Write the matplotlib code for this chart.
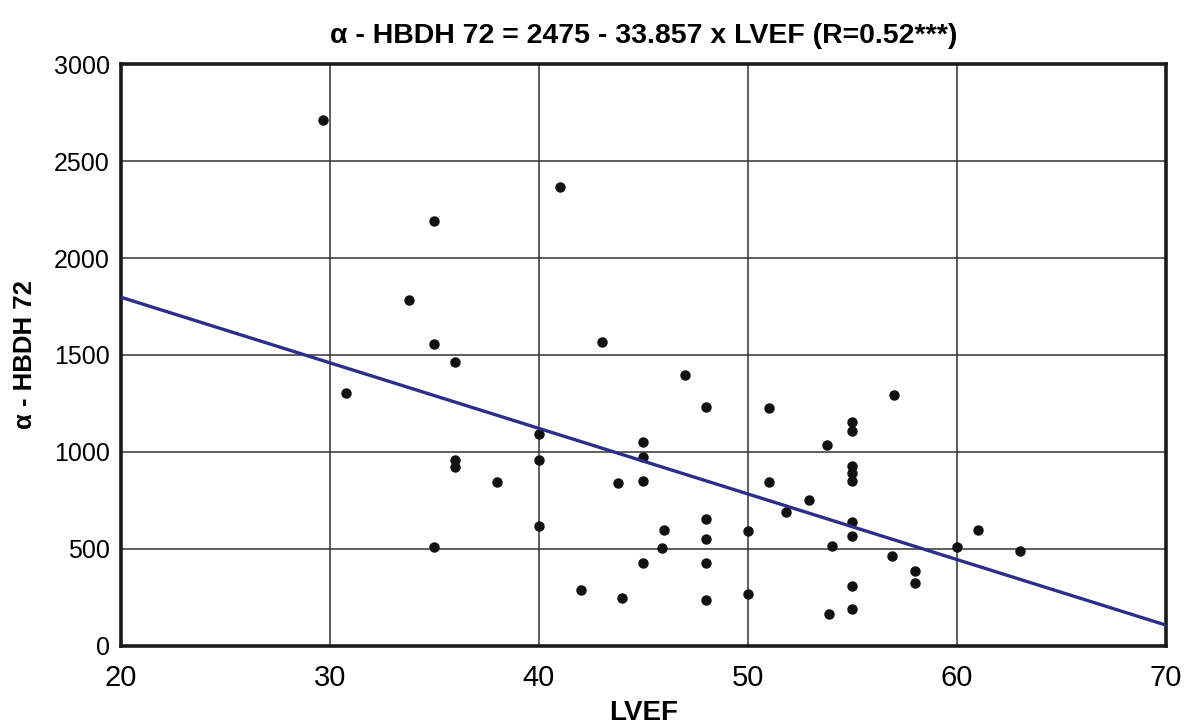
import numpy as np
import matplotlib.pyplot as plt

plt.rcParams['font.family'] = ['Liberation Sans', 'DejaVu Sans']

# LVEF (%) vs alpha-HBDH at 72 h
lvef = [29.7, 35, 33.8, 35, 36, 30.8, 40, 40, 36, 36, 38, 40, 35,
        43, 47, 48, 51, 53.8, 45, 45, 43.8, 45, 51, 52.9, 51.8, 46,
        48, 48, 50, 45.9, 45, 48, 42, 44, 48, 50, 57, 55, 55, 55,
        55, 55, 55, 55, 54, 56.9, 58, 58, 55, 55, 53.9, 60, 61, 63, 41]
hbdh = [2710, 2190, 1785, 1555, 1465, 1305, 1090, 960, 960, 923, 845, 617, 508,
        1568, 1398, 1233, 1224, 1033, 1052, 975, 839, 849, 844, 749, 689, 595,
        651, 548, 589, 503, 424, 424, 285, 245, 236, 267, 1295, 1155, 1106, 926,
        889, 849, 636, 564, 515, 464, 385, 324, 307, 188, 163, 510, 595, 489, 2365]

# regression from the title
intercept = 2475
slope = -33.857

x_ticks = [20, 30, 40, 50, 60, 70]
y_ticks = [0, 500, 1000, 1500, 2000, 2500, 3000]

fig = plt.figure(figsize=(11.89, 7.27), dpi=100)
ax = fig.add_axes([0.1015, 0.1121, 0.8792, 0.7995])

ax.grid(True, color='#333333', linewidth=1.1)
ax.set_axisbelow(True)

ax.plot(lvef, hbdh, 'o', color='#111111', markersize=6.5, zorder=3)

xl = np.array([20, 70])
ax.plot(xl, intercept + slope * xl, color='#2E2E8A', linewidth=2.4, zorder=4)

ax.set_xlim(20, 70)
ax.set_ylim(0, 3000)
ax.set_xticks(x_ticks)
ax.set_yticks(y_ticks)
ax.tick_params(axis='x', length=0, pad=13, labelsize=21)
ax.tick_params(axis='y', length=0, pad=8, labelsize=18)

for s in ax.spines.values():
    s.set_linewidth(2.6)
    s.set_color('#1a1a1a')

ax.set_xlabel('LVEF', fontsize=20, fontweight='bold', labelpad=6)
ax.set_ylabel('α - HBDH 72', fontsize=18.5, fontweight='bold', labelpad=12)
ax.set_title('α - HBDH 72 = 2475 - 33.857 x LVEF (R=0.52***)',
             fontsize=20.5, fontweight='bold', pad=15)

fig.savefig('out.png', dpi=100, facecolor='white')
